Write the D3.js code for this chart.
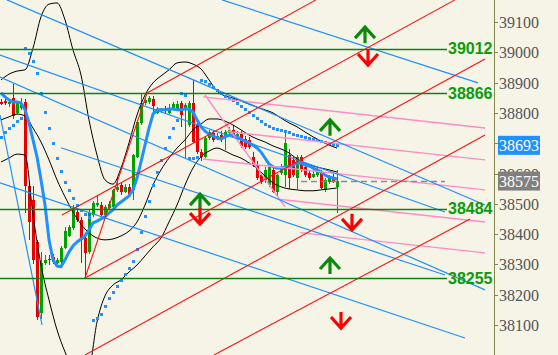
<!DOCTYPE html>
<html>
<head>
<meta charset="utf-8">
<script src="https://cdn.jsdelivr.net/npm/d3@7"></script>
<style>
	html, body { margin: 0; padding: 0; background: #f6f4e7; }
	svg { display: block; }
</style>
</head>
<body>
<svg id="chart" width="558" height="355"></svg>
<script>
// ---- candles (index 0..84) ----
var opens = [38836,38838,38828,38850,38800,38818,38836,38560,38513,38374,
	38140,38305,38318,38325,38305,38308,38355,38395,38420,38473,
	38447,38387,38341,38463,38495,38496,38463,38488,38490,38546,
	38562,38540,38556,38546,38655,38767,38833,38836,38846,38800,
	38808,38816,38800,38815,38815,38833,38816,38760,38833,38760,
	38671,38655,38717,38735,38722,38727,38722,38735,38744,38722,
	38730,38715,38711,38655,38628,38595,38579,38562,38612,38539,
	38602,38595,38661,38645,38585,38655,38622,38602,38590,38595,
	38602,38546,38572,38590,38556];
var highs = [38846,38845,38845,38895,38840,38850,38845,38570,38560,38380,
	38341,38330,38330,38335,38320,38360,38425,38430,38496,38485,
	38455,38395,38480,38510,38529,38505,38495,38510,38550,38585,
	38570,38565,38565,38665,38775,38866,38850,38855,38855,38820,
	38815,38822,38830,38835,38840,38840,38833,38840,38909,38770,
	38680,38720,38745,38745,38735,38740,38745,38755,38760,38740,
	38740,38725,38720,38670,38640,38605,38620,38630,38625,38600,
	38630,38735,38680,38655,38660,38662,38630,38610,38610,38620,
	38612,38585,38595,38600,38612];
var lows = [38826,38826,38820,38780,38795,38810,38470,38380,38300,38117,
	38120,38298,38298,38300,38300,38300,38350,38390,38415,38440,
	38305,38255,38335,38455,38488,38460,38455,38480,38485,38540,
	38530,38535,38525,38513,38650,38760,38825,38830,38800,38795,
	38800,38800,38795,38810,38810,38753,38652,38755,38700,38665,
	38640,38650,38710,38705,38710,38705,38678,38725,38720,38715,
	38685,38680,38680,38620,38580,38565,38570,38555,38535,38523,
	38595,38556,38550,38590,38550,38605,38590,38580,38585,38590,
	38550,38540,38565,38570,38470];
var closes = [38830,38830,38836,38790,38832,38830,38560,38440,38315,38127,
	38305,38315,38314,38308,38315,38354,38410,38424,38486,38447,
	38381,38338,38470,38503,38503,38463,38490,38500,38546,38556,
	38539,38556,38529,38660,38770,38833,38843,38849,38823,38810,
	38812,38805,38816,38830,38830,38793,38826,38833,38704,38671,
	38655,38717,38737,38711,38725,38717,38737,38744,38722,38730,
	38690,38688,38688,38628,38585,38572,38612,38622,38539,38595,
	38622,38700,38585,38595,38655,38612,38595,38585,38600,38612,
	38552,38579,38585,38578,38575];

// ---- indicators ----
var maLine = [38866,38853,38843,38836,38836,38833,38810,38767,38711,38655,
	38579,38496,38381,38315,38295,38292,38315,38341,38361,38374,
	38384,38394,38414,38437,38443,38450,38457,38470,38480,38496,
	38506,38516,38526,38546,38585,38638,38694,38750,38796,38810,
	38810,38810,38813,38813,38810,38810,38813,38813,38803,38777,
	38754,38740,38730,38724,38717,38714,38721,38727,38727,38721,
	38714,38707,38701,38694,38684,38671,38651,38631,38622,38618,
	38618,38622,38622,38628,38635,38635,38628,38625,38618,38612,
	38605,38595,38589,38585,38582];
var sarDots = [38720,38737,38750,38760,38773,38783,39014,38998,38971,38932,
	38866,38803,38750,38701,38651,38608,38572,38546,38519,38496,
	38480,38466,38456,38117,38123,38136,38163,38189,38209,38229,
	38249,38268,38288,38311,38351,38407,38460,38509,38562,38605,
	38645,38684,38720,38750,38777,38866,38859,38651,38651,38655,
	38909,38905,38895,38885,38876,38866,38856,38849,38843,38833,
	38823,38813,38803,38793,38783,38773,38763,38757,38750,38747,
	38744,38740,38737,38730,38727,38724,38721,38717,38714,38711,
	38707,38704,38701,38698,38694];
// bands read at every second candle
var bandUpper = [38909,38928,38938,38942,39014,39117,39159,39163,39107,39008,
	38925,38777,38661,38579,38565,38618,38701,38793,38859,38899,
	38922,38942,38965,38968,38961,38945,38909,38872,38856,38849,
	38839,38829,38819,38810,38800,38783,38767,38754,38737,38721,
	38707,38694,38684];
var bandMiddle = [38777,38787,38796,38790,38750,38704,38645,38579,38523,38473,
	38433,38404,38387,38381,38384,38394,38410,38440,38496,38562,
	38612,38651,38684,38711,38744,38763,38780,38780,38773,38760,
	38744,38727,38714,38704,38691,38681,38668,38648,38635,38625,
	38618,38612,38605];
var bandLower = [38638,38651,38664,38661,38463,38298,38183,38084,38011,37952,
	37919,37952,38110,38196,38232,38249,38275,38298,38328,38358,
	38387,38440,38496,38562,38618,38655,38674,38684,38674,38661,
	38651,38635,38618,38592,38569,38556,38549,38546,38543,38543,
	38546,38549,38552];

// ---- drawn objects: [index1, price1, index2, price2] ----
var blueLines = [
	[55.25, 39173, 119.25, 38899],
	[1.5, 39173, 121, 38496],
	[-0.25, 38991, 111, 38473],
	[-0.25, 38918, 121, 38216],
	[-0.25, 38569, 116, 38057],
	[-0.25, 38793, 10.25, 38100],
	[15, 38685, 111, 38265]
];
var redLines = [
	[36.5, 38866, 78.75, 39173],
	[15.25, 38463, 113.5, 39173],
	[21, 38255, 121, 38978],
	[21, 38001, 121, 38727],
	[53.25, 38001, 117.25, 38450],
	[21, 38255, 36.5, 38866]
];
var pinkLines = [
	[50.5, 38853, 121, 38750],
	[56.25, 38739, 121, 38645],
	[50.5, 38648, 121, 38546],
	[69.5, 38515, 121, 38440],
	[74.75, 38405, 121, 38338],
	[51, 38859, 71, 38490]
];
var levels = [39012, 38866, 38484, 38255];
var lastPrice = 38575;
var indicatorPrice = 38693;
// arrows: [index, price, 1 = up / -1 = down]
var arrows = [
	[91, 39083, 1], [91.75, 38958, -1],
	[82.25, 38777, 1], [49.75, 38532, 1], [49.75, 38433, -1],
	[87.75, 38414, -1], [82.25, 38321, 1], [85, 38090, -1]
];
var priceTicks = d3.range(38100, 39101, 100);

var W = 558, H = 355, axisX = 494;
var fontTicks = '"Liberation Serif", "Times New Roman", serif';
var svg = d3.select('#chart');
var x = d3.scaleLinear().domain([0, 121]).range([1, 485]);
var y = d3.scaleLinear().domain([38100, 39100]).range([325, 22]);

svg.append('rect').attr('width', W).attr('height', H).attr('fill', '#f6f4e7');
var defs = svg.append('defs');
defs.append('clipPath').attr('id', 'plot')
	.append('rect').attr('width', axisX).attr('height', H);
var plot = svg.append('g').attr('clip-path', 'url(#plot)');

// candles
var idx = d3.range(opens.length);
var candle = plot.append('g').selectAll('g').data(idx).join('g')
	.attr('fill', function(i) { return closes[i] >= opens[i] ? '#00a000' : '#e80000'; })
	.attr('stroke', function(i) { return closes[i] >= opens[i] ? '#00a000' : '#e80000'; });
candle.append('line')
	.attr('x1', function(i) { return x(i) + 0.5; })
	.attr('x2', function(i) { return x(i) + 0.5; })
	.attr('y1', function(i) { return Math.round(y(highs[i])); })
	.attr('y2', function(i) { return Math.round(y(lows[i])); })
	.attr('stroke-width', 1);
candle.append('rect')
	.attr('stroke', 'none')
	.attr('x', function(i) { return x(i) - 1; })
	.attr('width', 3)
	.attr('y', function(i) { return Math.round(y(Math.max(opens[i], closes[i]))); })
	.attr('height', function(i) { return Math.max(1, Math.round(Math.abs(y(opens[i]) - y(closes[i])))); });

// bollinger bands
var bandIdx = d3.range(0, opens.length, 2);
var bandLine = d3.line()
	.x(function(d, k) { return x(bandIdx[k]); })
	.y(function(d) { return y(d); })
	.curve(d3.curveMonotoneX);
[bandUpper, bandMiddle, bandLower].forEach(function(b) {
	plot.append('path').attr('d', bandLine(b))
		.attr('fill', 'none').attr('stroke', '#000').attr('stroke-width', 1);
});

// moving average
plot.append('path')
	.attr('d', d3.line().x(function(d, i) { return x(i); }).y(function(d) { return y(d); })(maLine))
	.attr('fill', 'none').attr('stroke', '#1e90ff').attr('stroke-width', 3)
	.attr('stroke-linejoin', 'round');

// parabolic sar
plot.append('g').selectAll('rect').data(sarDots).join('rect')
	.attr('x', function(d, i) { return x(i) - 1; })
	.attr('y', function(d) { return Math.round(y(d)) - 1; })
	.attr('width', 3).attr('height', 3)
	.attr('fill', '#1e90ff');

// trend lines
function drawLines(data, color, width) {
	plot.append('g').selectAll('line').data(data).join('line')
		.attr('x1', function(d) { return x(d[0]); })
		.attr('y1', function(d) { return y(d[1]); })
		.attr('x2', function(d) { return x(d[2]); })
		.attr('y2', function(d) { return y(d[3]); })
		.attr('stroke', color).attr('stroke-width', width);
}
drawLines(pinkLines, '#ff8cc8', 1.4);
drawLines(blueLines, '#1e90ff', 1.2);
drawLines(redLines, '#ff1010', 1.1);

// last price dashed line
plot.append('line')
	.attr('x1', x(75)).attr('x2', x(111))
	.attr('y1', Math.round(y(lastPrice)) + 0.5).attr('y2', Math.round(y(lastPrice)) + 0.5)
	.attr('stroke', '#8c8c8c').attr('stroke-width', 1.5).attr('stroke-dasharray', '6,4');

// horizontal levels
plot.append('g').selectAll('line').data(levels).join('line')
	.attr('x1', 0).attr('x2', x(111.5))
	.attr('y1', function(d) { return Math.round(y(d)) + 0.5; })
	.attr('y2', function(d) { return Math.round(y(d)) + 0.5; })
	.attr('stroke', '#0a840a').attr('stroke-width', 1.6);
svg.append('g').selectAll('text').data(levels).join('text')
	.attr('x', 448).attr('y', function(d) { return y(d); })
	.attr('dy', '0.36em')
	.attr('font-family', '"Liberation Sans", Arial, sans-serif')
	.attr('font-size', 16).attr('font-weight', 'bold')
	.attr('fill', '#0c9a0c')
	.text(function(d) { return d; });

// signal arrows
var arrow = plot.append('g').selectAll('g').data(arrows).join('g')
	.attr('transform', function(d) { return 'translate(' + x(d[0]) + ',' + y(d[1]) + ')'; })
	.attr('stroke', function(d) { return d[2] > 0 ? '#0a8a0a' : '#ff0000'; })
	.attr('stroke-width', 3.2).attr('fill', 'none');
arrow.append('path')
	.attr('d', function(d) {
		var s = d[2] > 0 ? 1 : -1;
		return 'M-10,' + (11 * s) + 'L0,0L10,' + (11 * s) + 'M0,0V' + (16 * s);
	});

// price axis
svg.append('line').attr('x1', axisX + 0.5).attr('x2', axisX + 0.5)
	.attr('y1', 0).attr('y2', H)
	.attr('stroke', '#86864a').attr('stroke-width', 1);

// the tags sit over some tick labels: the one under the blue tag is fully hidden,
// the one just above the grey tag only peeks out on top
var tagTop = Math.round(y(lastPrice)) - 9;
defs.append('clipPath').attr('id', 'aboveTag')
	.append('rect').attr('x', axisX).attr('y', 0).attr('width', 64).attr('height', tagTop);
var tick = svg.append('g').selectAll('g').data(priceTicks).join('g');
tick.append('line').attr('x1', axisX).attr('x2', axisX + 4)
	.attr('y1', function(d) { return Math.round(y(d)) + 0.5; })
	.attr('y2', function(d) { return Math.round(y(d)) + 0.5; })
	.attr('stroke', '#86864a');
tick.filter(function(d) { return Math.abs(y(d) - y(indicatorPrice)) > 6; })
	.append('text')
	.attr('x', 499).attr('y', function(d) { return Math.round(y(d)); }).attr('dy', '0.36em')
	.attr('clip-path', function(d) { return Math.abs(y(d) - y(lastPrice)) < 12 ? 'url(#aboveTag)' : null; })
	.attr('font-family', fontTicks)
	.attr('font-size', 16).attr('fill', '#555')
	.text(function(d) { return d; });

// current value tags
function tag(value, bg) {
	var g = svg.append('g').attr('transform', 'translate(498,' + y(value) + ')');
	g.append('rect').attr('x', 0).attr('y', -9.5).attr('width', 42).attr('height', 19).attr('fill', bg);
	g.append('text').attr('x', 1).attr('dy', '0.36em')
		.attr('font-family', fontTicks)
		.attr('font-size', 16).attr('fill', '#fff')
		.text(value);
}
tag(indicatorPrice, '#1e90ff');
tag(lastPrice, '#808080');
</script>
</body>
</html>
